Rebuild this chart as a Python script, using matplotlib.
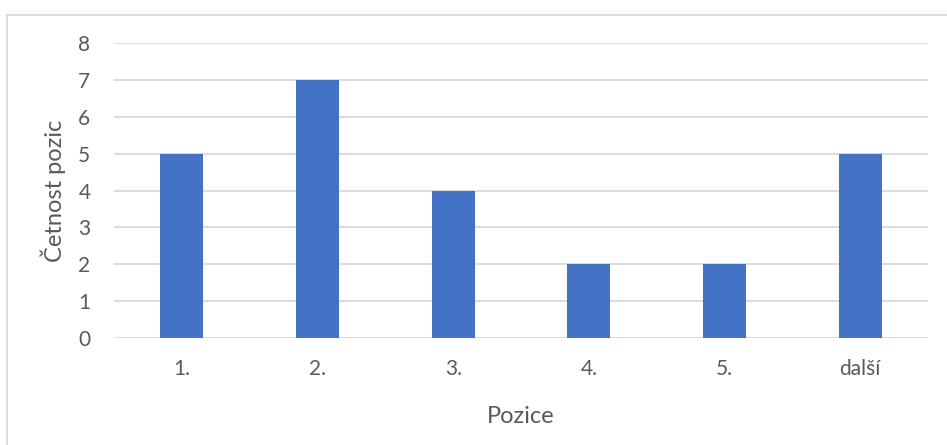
import matplotlib.pyplot as plt
from matplotlib.lines import Line2D

positions = ["1.", "2.", "3.", "4.", "5.", "další"]
counts = [5, 7, 4, 2, 2, 5]

plt.rcParams['font.family'] = ['Lato', 'DejaVu Sans']

fig = plt.figure(figsize=(9.47, 4.45), dpi=100)
ax = fig.add_axes([0.1204, 0.2411, 0.98 - 0.1204, 0.9027 - 0.2411])

x = range(len(positions))
ax.bar(x, counts, width=0.317, color="#4472C4", zorder=3)
ax.set_xlim(-0.5, len(positions) - 0.5)
ax.set_ylim(0, 8)
ax.set_yticks(range(0, 9))
ax.set_xticks(list(x))
ax.set_xticklabels(positions)
ax.yaxis.grid(True, color="#D9D9D9", linewidth=1.3, zorder=0)
ax.set_axisbelow(True)
for s in ax.spines.values():
    s.set_visible(False)
ax.tick_params(length=0, labelsize=15, labelcolor="#595959")
ax.tick_params(axis="x", pad=15)
ax.tick_params(axis="y", pad=17)
ax.set_xlabel("Pozice", fontsize=17, color="#595959", labelpad=20)
ax.set_ylabel("Četnost pozic", fontsize=17, color="#595959", labelpad=9)

# outer chart frame (only top and left visible)
fig.add_artist(Line2D([6.5 / 947, 1.0], [1 - 14.7 / 445] * 2, color="#D9D9D9", linewidth=1.3))
fig.add_artist(Line2D([6.5 / 947] * 2, [0.0, 1 - 14.7 / 445], color="#D9D9D9", linewidth=1.3))

fig.savefig("out.png", dpi=100)
